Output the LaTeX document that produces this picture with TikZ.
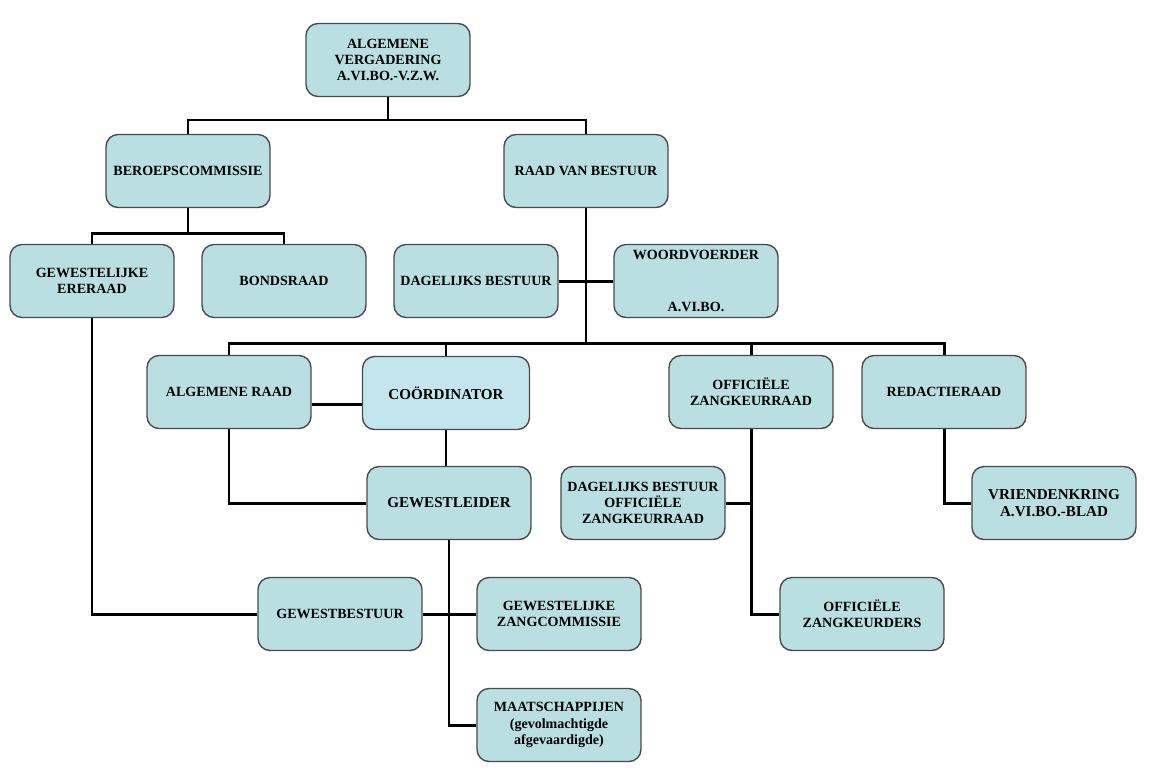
\documentclass[tikz,border=0pt]{standalone}
\usepackage{fontspec}
\setmainfont{Liberation Serif}
\usetikzlibrary{calc}
\definecolor{BoxClr}{HTML}{B9DFE2}
\definecolor{CoordClr}{HTML}{C3E6EE}
\definecolor{EdgeClr}{HTML}{4A4A4A}

\tikzset{
  orgbox/.style={draw=EdgeClr,line width=0.8pt,fill=BoxClr,rounded corners=0.24cm,
    minimum width=3.28cm,minimum height=1.46cm,align=center,inner sep=1pt,
    font=\bfseries\fontsize{8}{9.2}\selectfont},
  bigbox/.style={orgbox,font=\bfseries\fontsize{8.6}{10}\selectfont},
  link/.style={line width=1.7pt,black}
}

\begin{document}
\begin{tikzpicture}[x=0.02cm,y=-0.02cm]
\useasboundingbox (0,0) rectangle (1150,782);

% boxes
\node[orgbox] (vergadering) at (388,60) {ALGEMENE\\VERGADERING\\A.VI.BO.-V.Z.W.};
\node[orgbox] (beroeps) at (188,171) {BEROEPSCOMMISSIE};
\node[orgbox] (bestuur) at (586,171) {RAAD VAN BESTUUR};
\node[orgbox] (ereraad) at (92,281) {GEWESTELIJKE\\ERERAAD};
\node[orgbox] (bondsraad) at (284,281) {BONDSRAAD};
\node[orgbox] (dagbestuur) at (476,281) {DAGELIJKS BESTUUR};
\node[orgbox] (woordvoerder) at (696,281) {WOORDVOERDER\\[0.7cm]A.VI.BO.};
\node[orgbox] (algraad) at (229,392) {ALGEMENE RAAD};
\node[bigbox,fill=CoordClr,minimum width=3.34cm] (coordinator) at (446,393) {COÖRDINATOR};
\node[orgbox] (zangraad) at (751,392) {OFFICIËLE\\ZANGKEURRAAD};
\node[orgbox] (redactie) at (944,392) {REDACTIERAAD};
\node[bigbox] (gewestleider) at (449,503) {GEWESTLEIDER};
\node[orgbox] (dagzang) at (643,503) {DAGELIJKS BESTUUR\\OFFICIËLE\\ZANGKEURRAAD};
\node[bigbox] (vriendenkring) at (1054,503) {VRIENDENKRING\\A.VI.BO.-BLAD};
\node[orgbox] (gewestbestuur) at (340,614) {GEWESTBESTUUR};
\node[orgbox] (zangcomm) at (559,614) {GEWESTELIJKE\\ZANGCOMMISSIE};
\node[orgbox] (keurders) at (862,614) {OFFICIËLE\\ZANGKEURDERS};
\node[orgbox] (maatsch) at (559,725) {MAATSCHAPPIJEN\\(gevolmachtigde\\afgevaardigde)};

% junctions
\coordinate (j1) at (388,120);
\coordinate (j2) at (188,233);
\coordinate (j3) at (586,343);

% connectors
\draw[link] (vergadering.south) -- (j1);
\draw[link] (beroeps.north) |- (j1) -| (bestuur.north);
\draw[link] (beroeps.south) -- (j2);
\draw[link] (ereraad.north) |- (j2) -| (bondsraad.north);
\draw[link] (bestuur.south) -- (j3);
\draw[link] (dagbestuur.east) -- (woordvoerder.west);
\draw[link] (algraad.north) |- (j3) -| (redactie.north);
\draw[link] (coordinator.north) -- (coordinator.north |- j3);
\draw[link] (zangraad.north) -- (zangraad.north |- j3);
\draw[link] ([yshift=-0.24cm]algraad.east) -- ([yshift=-0.24cm]algraad.east -| coordinator.west);
\draw[link] (coordinator.south) -- (coordinator.south |- gewestleider.north);
\draw[link] (algraad.south) |- (gewestleider.west);
\draw[link] (ereraad.south) |- (gewestbestuur.west);
\draw[link] (gewestleider.south) |- (maatsch.west);
\draw[link] (gewestbestuur.east) -- (zangcomm.west);
\draw[link] (zangraad.south) |- (keurders.west);
\draw[link] (dagzang.east) -- (dagzang.east -| zangraad.south);
\draw[link] (redactie.south) |- (vriendenkring.west);
\end{tikzpicture}
\end{document}
